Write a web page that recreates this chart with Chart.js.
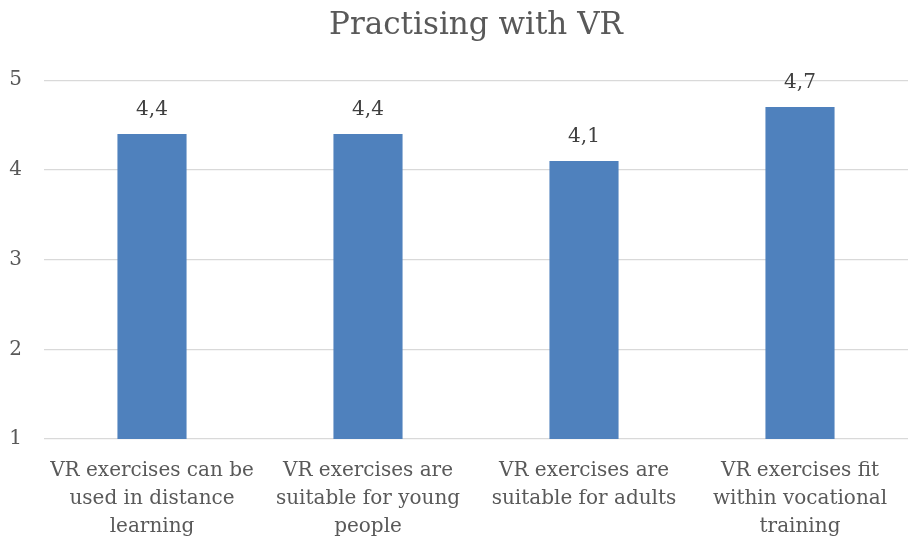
<!DOCTYPE html>
<html>
<head>
<meta charset="utf-8">
<script src="https://cdn.jsdelivr.net/npm/chart.js@4/dist/chart.umd.min.js"></script>
<style>
  html, body { margin: 0; padding: 0; background: #fff; }
  #wrap { width: 910px; height: 539px; }
</style>
</head>
<body>
<div id="wrap"><canvas id="barChart"></canvas></div>
<script>
const categories = [
  ['VR exercises can be', 'used in distance', 'learning'],
  ['VR exercises are', 'suitable for young', 'people'],
  ['VR exercises are', 'suitable for adults'],
  ['VR exercises fit', 'within vocational', 'training']
];
const scores = [4.4, 4.4, 4.1, 4.7];
const yTicks = [1, 2, 3, 4, 5];

const FONT = "'DejaVu Serif', 'Liberation Serif', serif";
const TEXT = '#595959';

// prints each bar's value above it, decimal comma style
const valueLabels = {
  id: 'valueLabels',
  afterDatasetsDraw(chart) {
    const ctx = chart.ctx;
    const meta = chart.getDatasetMeta(0);
    ctx.save();
    ctx.font = '20px ' + FONT;
    ctx.fillStyle = '#404040';
    ctx.textAlign = 'center';
    ctx.textBaseline = 'alphabetic';
    meta.data.forEach((bar, i) => {
      const txt = scores[i].toFixed(1).replace('.', ',');
      ctx.fillText(txt, bar.x, bar.y - 19);
    });
    ctx.restore();
  }
};

function createChart() {
  const ctx = document.getElementById('barChart').getContext('2d');

  new Chart(ctx, {
    type: 'bar',
    data: {
      labels: categories,
      datasets: [{
        data: scores,
        backgroundColor: '#4F81BD',
        categoryPercentage: 1,
        barPercentage: 0.32
      }]
    },
    options: {
      responsive: true,
      maintainAspectRatio: false,
      animation: false,
      layout: { padding: { left: 0, right: 2, top: 0, bottom: 0 } },
      scales: {
        y: {
          min: yTicks[0],
          max: yTicks[yTicks.length - 1],
          afterBuildTicks: (axis) => { axis.ticks = yTicks.map(v => ({ value: v })); },
          afterFit: (axis) => { axis.width = 44; },
          border: { display: false },
          grid: { color: '#D9D9D9', lineWidth: 1.3, drawTicks: false },
          ticks: { color: TEXT, font: { family: FONT, size: 20 }, padding: 22 }
        },
        x: {
          afterFit: (axis) => { axis.height = 100; },
          border: { display: false },
          grid: { display: false },
          ticks: {
            color: TEXT,
            maxRotation: 0,
            autoSkip: false,
            padding: 10,
            font: { family: FONT, size: 20, lineHeight: 1.4 }
          }
        }
      },
      plugins: {
        legend: { display: false },
        tooltip: { enabled: false },
        title: {
          display: true,
          text: 'Practising with VR',
          fullSize: false,
          color: TEXT,
          font: { family: FONT, size: 31, weight: 'normal' },
          padding: { top: 7, bottom: 36 }
        }
      }
    },
    plugins: [valueLabels]
  });
}

document.addEventListener('DOMContentLoaded', createChart);
</script>
</body>
</html>
